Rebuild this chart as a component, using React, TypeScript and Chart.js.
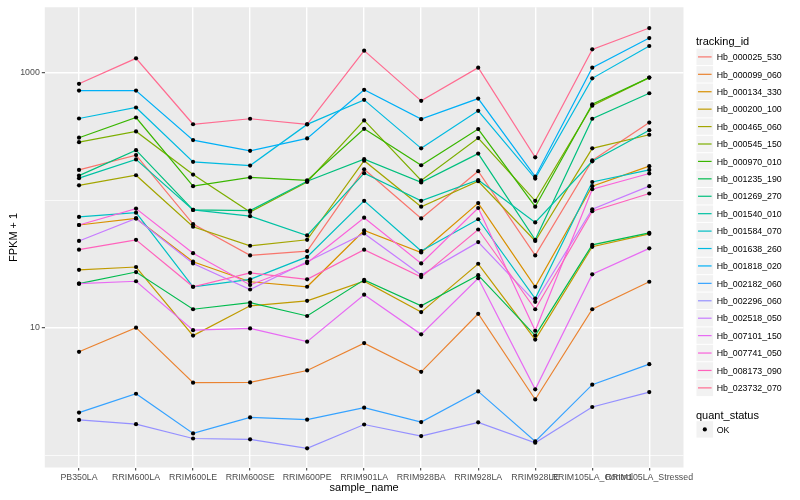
import React, { useEffect, useRef } from "react";
import { Chart, registerables } from "chart.js";

Chart.register(...registerables);

const sampleNames = [
  "PB350LA", "RRIM600LA", "RRIM600LE", "RRIM600SE", "RRIM600PE", "RRIM901LA",
  "RRIM928BA", "RRIM928LA", "RRIM928LE", "RRIM105LA_Control", "RRIM105LA_Stressed",
];

const trackingIds = [
  "Hb_000025_530", "Hb_000099_060", "Hb_000134_330", "Hb_000200_100", "Hb_000465_060",
  "Hb_000545_150", "Hb_000970_010", "Hb_001235_190", "Hb_001269_270", "Hb_001540_010",
  "Hb_001584_070", "Hb_001638_260", "Hb_001818_020", "Hb_002182_060", "Hb_002296_060",
  "Hb_002518_050", "Hb_007101_150", "Hb_007741_050", "Hb_008173_090", "Hb_023732_070",
];

const trackingColors = [
  "#F8766D", "#EA8331", "#D89000", "#C09B00", "#A3A500",
  "#7CAE00", "#39B600", "#00BB4E", "#00BF7D", "#00C1A3",
  "#00BFC4", "#00BAE0", "#00B0F6", "#35A2FF", "#9590FF",
  "#C77CFF", "#E76BF3", "#FA62DB", "#FF62BC", "#FF6C91",
];

// FPKM + 1 per sample, in sampleNames order
const hb000025_530 = [173, 226, 65, 37, 40, 175, 72, 169, 37, 205, 406];
const hb000099_060 = [6.5, 10.05, 3.72, 3.74, 4.64, 7.6, 4.53, 12.9, 2.75, 14.0, 23.0];
const hb000134_330 = [64, 72, 33, 23, 21, 58, 39, 95, 21, 129, 185];
const hb000200_100 = [28.5, 30, 8.7, 14.9, 16.3, 23.2, 13.3, 31.8, 8.1, 43.2, 54.6];
const hb000465_060 = [131, 157, 62, 44, 49, 204, 89, 141, 48, 255, 326];
const hb000545_150 = [285, 346, 159, 81, 139, 422, 143, 307, 99, 550, 914];
const hb000970_010 = [309, 445, 129, 151, 143, 363, 188, 361, 89, 565, 914];
const hb001235_190 = [22.2, 27.4, 14.0, 15.8, 12.4, 23.8, 14.9, 25.9, 8.7, 44.7, 55.6];
const hb001269_270 = [156, 247, 84, 83, 141, 210, 138, 232, 49, 435, 689];
const hb001540_010 = [149, 209, 84, 75, 53, 163, 99, 144, 67, 202, 354];
const hb001584_070 = [74, 80, 21, 24, 36, 99, 40, 71, 17, 139, 173];
const hb001638_260 = [437, 533, 200, 187, 393, 612, 255, 502, 148, 902, 1617];
const hb001818_020 = [723, 723, 296, 244, 305, 733, 432, 626, 153, 1094, 1866];
const hb002182_060 = [2.17, 3.05, 1.49, 1.99, 1.91, 2.37, 1.83, 3.18, 1.29, 3.59, 5.2];
const hb002296_060 = [1.9, 1.76, 1.36, 1.34, 1.14, 1.75, 1.42, 1.82, 1.26, 2.4, 3.14];
const hb002518_050 = [48, 72, 32, 20, 33, 55, 26, 47, 16, 85, 129];
const hb007101_150 = [22.2, 23.2, 9.6, 9.9, 7.8, 18.2, 8.9, 24.5, 3.3, 26.3, 42];
const hb007741_050 = [64, 86, 38.5, 21.7, 32.2, 73, 32, 87, 9.5, 122, 162];
const hb008173_090 = [41, 49, 21, 27, 24, 41, 25, 59, 14, 82, 113];
const hb023732_070 = [817, 1294, 394, 435, 394, 1486, 601, 1094, 217, 1521, 2234];

const seriesValues = [
  hb000025_530, hb000099_060, hb000134_330, hb000200_100, hb000465_060,
  hb000545_150, hb000970_010, hb001235_190, hb001269_270, hb001540_010,
  hb001584_070, hb001638_260, hb001818_020, hb002182_060, hb002296_060,
  hb002518_050, hb007101_150, hb007741_050, hb008173_090, hb023732_070,
];

const yTickValues = [1, 10, 100, 1000];
const yTickLabels: Record<number, string> = { 10: "10", 1000: "1000" };
const quantStatus = ["OK"];

const FONT = "'Liberation Sans', Arial, Helvetica, sans-serif";

const panelBackground = {
  id: "panelBackground",
  beforeDraw(chart: any) {
    const { ctx, chartArea: a } = chart;
    ctx.save();
    ctx.fillStyle = "#EBEBEB";
    ctx.fillRect(a.left, a.top, a.right - a.left, a.bottom - a.top);
    ctx.restore();
  },
};

export default function App() {
  const canvasRef = useRef<HTMLCanvasElement | null>(null);

  useEffect(() => {
    document.body.style.margin = "0";
    if (!canvasRef.current) return;
    Chart.defaults.font.family = FONT;

    const lineSets = seriesValues.map((vals, i) => ({
      type: "line" as const,
      label: trackingIds[i],
      data: vals.map((v, j) => ({ x: j + 1, y: v })),
      borderColor: trackingColors[i],
      backgroundColor: trackingColors[i],
      borderWidth: 1.2,
      pointRadius: 0,
      tension: 0,
      fill: false,
      order: 100 - i,
    }));
    const pointSets = seriesValues.map((vals, i) => ({
      type: "line" as const,
      label: trackingIds[i] + "_pts",
      data: vals.map((v, j) => ({ x: j + 1, y: v })),
      showLine: false,
      pointRadius: 2.1,
      pointBorderWidth: 0,
      pointBackgroundColor: "#000000",
      pointBorderColor: "#000000",
      order: 0,
    }));

    const chart = new Chart(canvasRef.current, {
      type: "line",
      data: { datasets: [...lineSets, ...pointSets] as any },
      plugins: [panelBackground],
      options: {
        animation: false,
        responsive: false,
        maintainAspectRatio: false,
        layout: { padding: { left: 0, right: 116.5, top: 5, bottom: 0 } },
        plugins: { legend: { display: false }, tooltip: { enabled: false } },
        scales: {
          x: {
            type: "linear",
            min: 0.4,
            max: 11.6,
            afterFit(scale: any) { scale.height = 32.5; },
            afterBuildTicks(scale: any) {
              scale.ticks = sampleNames.map((_, i) => ({ value: i + 1 }));
            },
            ticks: {
              autoSkip: false,
              maxRotation: 0,
              minRotation: 0,
              padding: 2,
              color: "#4D4D4D",
              font: { size: 8.8, family: FONT },
              callback: (v: any) => sampleNames[Math.round(Number(v)) - 1] ?? "",
            },
            grid: {
              color: "#FFFFFF",
              lineWidth: 1.4,
              drawTicks: true,
              tickLength: 3,
              tickColor: "#333333",
              tickWidth: 1,
            },
            border: { display: false },
            title: {
              display: true,
              text: "sample_name",
              color: "#000000",
              font: { size: 11, family: FONT },
              padding: { top: 0, bottom: 5 },
            },
          },
          y: {
            type: "logarithmic",
            min: 0.806,
            max: 3250,
            afterFit(scale: any) { scale.width = 44.8; },
            afterBuildTicks(scale: any) {
              scale.ticks = yTickValues.map((v) => ({ value: v }));
            },
            ticks: {
              padding: 2,
              color: "#4D4D4D",
              font: { size: 8.8, family: FONT },
              callback: (v: any) => yTickLabels[Number(v)] ?? "",
            },
            grid: {
              color: "#FFFFFF",
              lineWidth: (ctx: any) => (yTickLabels[ctx.tick?.value] ? 1.4 : 0.7),
              drawTicks: true,
              tickLength: 3,
              tickWidth: 1,
              tickColor: (ctx: any) => (yTickLabels[ctx.tick?.value] ? "#333333" : "rgba(0,0,0,0)"),
            },
            border: { display: false },
            title: {
              display: true,
              text: "FPKM + 1",
              color: "#000000",
              font: { size: 11, family: FONT },
              padding: { top: 7, bottom: 0 },
            },
          },
        },
      } as any,
    });
    return () => chart.destroy();
  }, []);

  const rowStep = 17.42;
  const firstRow = 56.9;
  const okRow = 429.4;

  return (
    <div style={{ position: "relative", width: 800, height: 500, fontFamily: FONT }}>
      <canvas ref={canvasRef} width={800} height={500} style={{ display: "block", width: 800, height: 500 }} />
      <svg
        width={110}
        height={500}
        viewBox="690 0 110 500"
        style={{ position: "absolute", left: 690, top: 0 }}
        fontFamily={FONT}
      >
        <text x={696} y={44.5} fontSize={11} fill="#000">tracking_id</text>
        {trackingIds.map((id, i) => {
          const cy = firstRow + i * rowStep;
          return (
            <g key={id}>
              <rect x={696.5} y={cy - 8.2} width={16.6} height={16.4} fill="#F2F2F2" />
              <line x1={698} y1={cy} x2={711.6} y2={cy} stroke={trackingColors[i]} strokeWidth={1.2} />
              <text x={716.7} y={cy + 3.2} fontSize={8.8} fill="#000">{id}</text>
            </g>
          );
        })}
        <text x={696} y={418.5} fontSize={11} fill="#000">quant_status</text>
        {quantStatus.map((s, i) => {
          const cy = okRow + i * rowStep;
          return (
            <g key={s}>
              <rect x={696.5} y={cy - 8.2} width={16.6} height={16.4} fill="#F2F2F2" />
              <circle cx={704.8} cy={cy} r={2.1} fill="#000" />
              <text x={716.7} y={cy + 3.2} fontSize={8.8} fill="#000">{s}</text>
            </g>
          );
        })}
      </svg>
    </div>
  );
}
